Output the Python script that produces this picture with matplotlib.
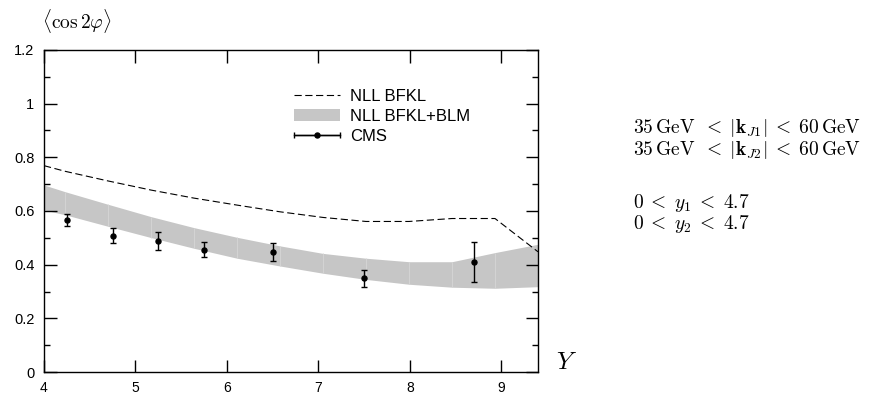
import numpy as np
import matplotlib
matplotlib.use("Agg")
from matplotlib import pyplot as plt
from matplotlib.legend_handler import HandlerErrorbar
from matplotlib.ticker import MultipleLocator

plt.rcParams['font.family'] = ['Liberation Sans', 'DejaVu Sans']
plt.rcParams['mathtext.fontset'] = 'cm'

# NLL BFKL (dashed)
nll_y = [4.0, 4.23, 4.70, 5.17, 5.64, 6.11, 6.58, 7.05, 7.52, 7.99, 8.46, 8.93, 9.4]
nll_val = [0.769, 0.748, 0.712, 0.678, 0.648, 0.622, 0.597, 0.576, 0.561, 0.561, 0.572, 0.572, 0.448]

# NLL BFKL+BLM band
band_y = [4.0, 4.23, 4.70, 5.17, 5.64, 6.11, 6.58, 7.05, 7.52, 7.99, 8.46, 8.93, 9.4]
band_lo = [0.604, 0.586, 0.543, 0.501, 0.461, 0.424, 0.395, 0.368, 0.345, 0.327, 0.316, 0.312, 0.318]
band_hi = [0.697, 0.672, 0.625, 0.579, 0.538, 0.502, 0.470, 0.442, 0.424, 0.411, 0.411, 0.445, 0.476]

# CMS data
cms_y = [4.25, 4.75, 5.25, 5.75, 6.5, 7.5, 8.7]
cms_val = [0.567, 0.508, 0.488, 0.455, 0.446, 0.349, 0.410]
cms_err = [0.022, 0.027, 0.033, 0.028, 0.033, 0.031, 0.076]

cuts = [r'$35\,\mathrm{GeV}\;\; < \;|\mathbf{k}_{J1}|\; < \;60\,\mathrm{GeV}$',
        r'$35\,\mathrm{GeV}\;\; < \;|\mathbf{k}_{J2}|\; < \;60\,\mathrm{GeV}$',
        r'$0\; < \;y_1\; < \;4.7$',
        r'$0\; < \;y_2\; < \;4.7$']

fig = plt.figure(figsize=(8.72, 3.96), dpi=100)
ax = fig.add_axes([44/872, 24/396, 494/872, 322/396])

ax.fill_between(band_y, band_lo, band_hi, color='#c6c6c6', lw=0, label='NLL BFKL+BLM')
# faint seams between band segments
ax.vlines(band_y[1:-1], band_lo[1:-1], band_hi[1:-1], color='#d6d6d6', lw=0.6)
ax.plot(nll_y, nll_val, color='k', lw=0.8, dashes=(6.5, 3.2), label='NLL BFKL')
ax.errorbar(cms_y, cms_val, yerr=cms_err, fmt='o', color='k', ms=3.6,
            capsize=2, elinewidth=1, capthick=1)
# legend-only proxy with horizontal bar
proxy = ax.errorbar([np.nan], [np.nan], xerr=[1], fmt='o', color='k', ms=3.6,
                    capsize=2.5, elinewidth=1, capthick=1, ls='-', lw=1, label='CMS')

handles, labels = ax.get_legend_handles_labels()
order = [labels.index('NLL BFKL'), labels.index('NLL BFKL+BLM'), labels.index('CMS')]
ax.legend([handles[i] for i in order], [labels[i] for i in order],
          loc='upper left', bbox_to_anchor=(0.489, 0.906), frameon=False,
          fontsize=12, handlelength=2.75, handletextpad=0.6, borderpad=0,
          labelspacing=0.3, handler_map={proxy: HandlerErrorbar(xerr_size=1.375)})

ax.set_xlim(4, 9.4)
ax.set_ylim(0, 1.2)
ax.xaxis.set_major_locator(MultipleLocator(1))
ax.yaxis.set_minor_locator(MultipleLocator(0.1))
ax.set_yticks([0, 0.2, 0.4, 0.6, 0.8, 1.0, 1.2])
ax.set_yticklabels(['0', '0.2', '0.4', '0.6', '0.8', '1', '1.2'])
ax.tick_params(which='both', direction='in', top=True, right=True, labelsize=10.5, width=1)
ax.tick_params(which='major', length=9)
ax.tick_params(which='minor', length=4.5)
ax.tick_params(axis='x', pad=6.5, labelsize=10)
ax.tick_params(axis='y', pad=7)
for s in ax.spines.values():
    s.set_linewidth(1)

fig.text(77/872, 1 - 21/396, r'$\langle\cos 2\varphi\rangle$', fontsize=14,
         ha='center', va='center')
fig.text(567/872, 1 - 362/396, r'$Y$', fontsize=18, ha='center', va='center')

for txt, ypx in zip(cuts, [133, 155, 208, 229]):
    fig.text(633/872, 1 - ypx/396, txt, fontsize=14, ha='left', va='baseline')

fig.savefig('out.png', dpi=100)
